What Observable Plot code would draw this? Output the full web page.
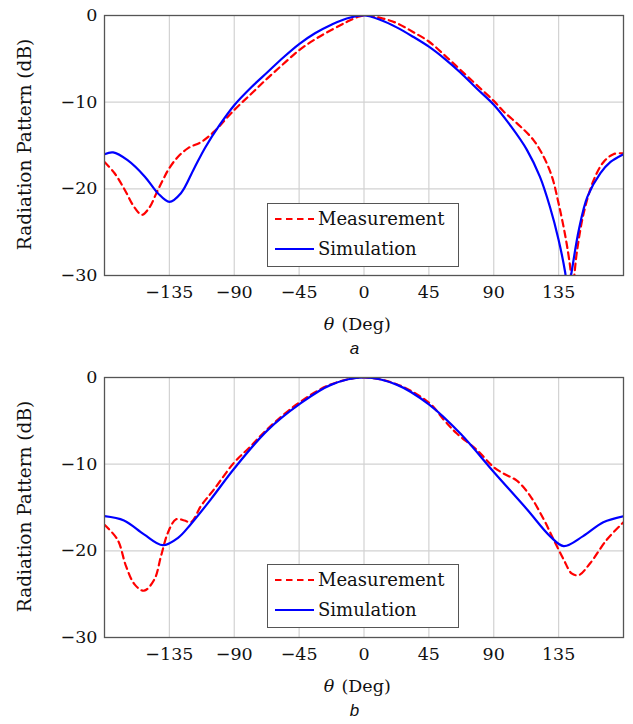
<!DOCTYPE html>
<html>
<head>
<meta charset="utf-8">
<script src="https://cdn.jsdelivr.net/npm/d3@7"></script>
<script src="https://cdn.jsdelivr.net/npm/@observablehq/plot@0.6"></script>
<style>
  html, body { margin: 0; padding: 0; background: #fff; }
  #root { width: 633px; }
  .panel { position: relative; width: 633px; height: 362px; }
  .panel svg { display: block; }
  .legend { position: absolute; left: 267px; width: 192px; height: 64px; box-sizing: border-box;
            border: 1.3px solid #555; background: #fff; }
</style>
</head>
<body>
<div id="root"></div>
<script>
// ---- data: [theta (deg), pattern (dB)] ----
const xTicks = [-135, -90, -45, 0, 45, 90, 135];
const yTicks = [0, -10, -20, -30];
const seriesNames = ["Measurement", "Simulation"];
const panelLabels = ["a", "b"];

const measA = [
  [-180,-16.9],[-173,-18.2],[-166,-20.1],[-159,-22.2],[-154,-23.0],[-149,-22.2],[-144,-20.5],
  [-139.6,-19.0],[-135,-17.6],[-129,-16.3],[-122,-15.3],[-113,-14.6],[-104,-13.4],[-90,-10.9],
  [-78,-9.0],[-67,-7.25],[-56,-5.6],[-45,-4.0],[-34,-2.75],[-23,-1.7],[-12,-0.75],[-4,-0.15],[2,0],
  [12,-0.3],[23,-0.9],[34,-1.9],[45,-3.0],[56,-4.6],[67,-6.3],[78,-8.0],[90,-9.85],[97,-11.1],
  [108.5,-12.8],[117.7,-14.4],[124.6,-16.3],[130.4,-18.6],[135,-21.7],[139.7,-25.5],[143,-29.0],
  [144.5,-31.5],[147.8,-27.1],[152.4,-22.8],[159.3,-19.0],[166.2,-16.9],[173,-16.0],[180,-15.9]
];
const simA = [
  [-180,-16.0],[-174,-15.8],[-164,-16.7],[-152,-18.6],[-143,-20.5],[-135,-21.5],[-127,-20.5],
  [-118,-17.7],[-110,-15.2],[-100,-12.6],[-90,-10.35],[-78,-8.25],[-67,-6.55],[-56,-4.85],[-45,-3.3],
  [-34,-2.05],[-23,-1.1],[-12,-0.35],[0,0],[12,-0.55],[23,-1.4],[34,-2.45],[45,-3.6],[56,-5.0],
  [67,-6.6],[78,-8.4],[90,-10.3],[102,-12.8],[113,-15.5],[122,-18.6],[129,-22.1],[135,-25.9],
  [139.5,-29.6],[141.5,-32],[144,-29.6],[149,-24.75],[155,-20.9],[164,-18.2],[171,-16.9],[180,-16.0]
];
const measB = [
  [-180,-17.0],[-171,-18.7],[-165,-21.8],[-159,-23.9],[-152.6,-24.6],[-145.4,-23.3],[-140.8,-20.6],
  [-136,-17.9],[-130.3,-16.35],[-124.6,-16.5],[-120,-16.7],[-113,-14.8],[-104,-12.9],[-90,-9.8],
  [-79,-8.0],[-67,-5.95],[-45,-2.9],[-23,-0.8],[0,0],[23,-0.8],[45,-2.9],[56,-5.0],[64,-6.4],
  [78.5,-8.4],[90,-10.35],[97,-11.1],[106,-11.9],[115,-13.6],[124.6,-16.35],[131.5,-18.7],
  [138.5,-21.0],[144,-22.6],[149,-22.8],[157,-21.4],[168.5,-18.7],[180,-16.7]
];
const simB = [
  [-180,-16.0],[-166.5,-16.5],[-152.6,-18.1],[-139.6,-19.35],[-129,-18.5],[-120,-16.9],[-106,-14.0],
  [-90,-10.5],[-67,-6.1],[-45,-3.1],[-23,-0.85],[0,0],[23,-0.85],[45,-3.1],[67,-6.5],[90,-10.9],
  [113,-15.2],[129,-18.3],[138.5,-19.45],[152,-18.3],[166,-16.7],[180,-16.0]
];

const serif = "'DejaVu Serif', serif";
const fmt = d => d < 0 ? "\u2212" + (-d) : String(d);

function panel(meas, sim, letter) {
  return Plot.plot({
    width: 633, height: 362,
    marginLeft: 104, marginRight: 10, marginTop: 15, marginBottom: 87,
    style: { fontFamily: serif, fontSize: "17.5px", color: "#111", background: "#fff", overflow: "visible" },
    x: { domain: [-180, 180], label: null },
    y: { domain: [-30, 0], label: null },
    marks: [
      Plot.gridX(xTicks, { stroke: "#d2d2d2", strokeOpacity: 1, strokeWidth: 1.2 }),
      Plot.gridY(yTicks, { stroke: "#d2d2d2", strokeOpacity: 1, strokeWidth: 1.2 }),
      Plot.axisX(xTicks, { tickSize: 0, tickPadding: 10, tickFormat: fmt, label: null }),
      Plot.axisY(yTicks, { tickSize: 0, tickPadding: 7, tickFormat: fmt, label: null }),
      Plot.line(meas, { x: d => d[0], y: d => d[1], stroke: "#ff0000", strokeWidth: 2.2,
        strokeDasharray: "6.5,4.5", curve: "catmull-rom", clip: true }),
      Plot.line(sim, { x: d => d[0], y: d => d[1], stroke: "#0000ff", strokeWidth: 2.2,
        curve: "catmull-rom", clip: true }),
      Plot.frame({ stroke: "#555", strokeWidth: 1.3 }),
      Plot.text(["Radiation Pattern (dB)"], { frameAnchor: "left", textAnchor: "middle", dx: -79, dy: -1, rotate: -90,
        fontFamily: serif, fontSize: 18.5, fill: "#111" }),
      Plot.text(["\u03B8"], { frameAnchor: "bottom", dx: -35, dy: 54, fontStyle: "italic",
        fontFamily: serif, fontSize: 17.5, fill: "#111" }),
      Plot.text(["(Deg)"], { frameAnchor: "bottom", dx: -22.5, dy: 54, textAnchor: "start",
        fontFamily: serif, fontSize: 17.5, fill: "#111" }),
      Plot.text([letter], { frameAnchor: "bottom", dx: -9.5, dy: 78, fontStyle: "italic",
        fontFamily: "'Liberation Sans', Arial, sans-serif", fontSize: 17, fill: "#111" })
    ]
  });
}

function legend() {
  const div = document.createElement("div");
  div.className = "legend";
  const svg = d3.create("svg").attr("width", 190).attr("height", 62)
    .style("display", "block").style("overflow", "visible");
  const rows = [
    { name: seriesNames[0], color: "#ff0000", dash: "6.5,4.5" },
    { name: seriesNames[1], color: "#0000ff", dash: null }
  ];
  rows.forEach((r, i) => {
    const cy = 15 + i * 30;
    svg.append("line").attr("x1", 7).attr("x2", 46).attr("y1", cy).attr("y2", cy)
      .attr("stroke", r.color).attr("stroke-width", 2.2)
      .attr("stroke-dasharray", r.dash);
    svg.append("text").attr("x", 50).attr("y", cy).attr("dy", "0.35em")
      .attr("font-family", serif).attr("font-size", 18).attr("fill", "#111").text(r.name);
  });
  div.appendChild(svg.node());
  return div;
}

const root = document.getElementById("root");
[[measA, simA, panelLabels[0], 203], [measB, simB, panelLabels[1], 202]].forEach(([m, s, l, top]) => {
  const p = document.createElement("div");
  p.className = "panel";
  p.appendChild(panel(m, s, l));
  const lg = legend();
  lg.style.top = top + "px";
  p.appendChild(lg);
  root.appendChild(p);
});
</script>
</body>
</html>
